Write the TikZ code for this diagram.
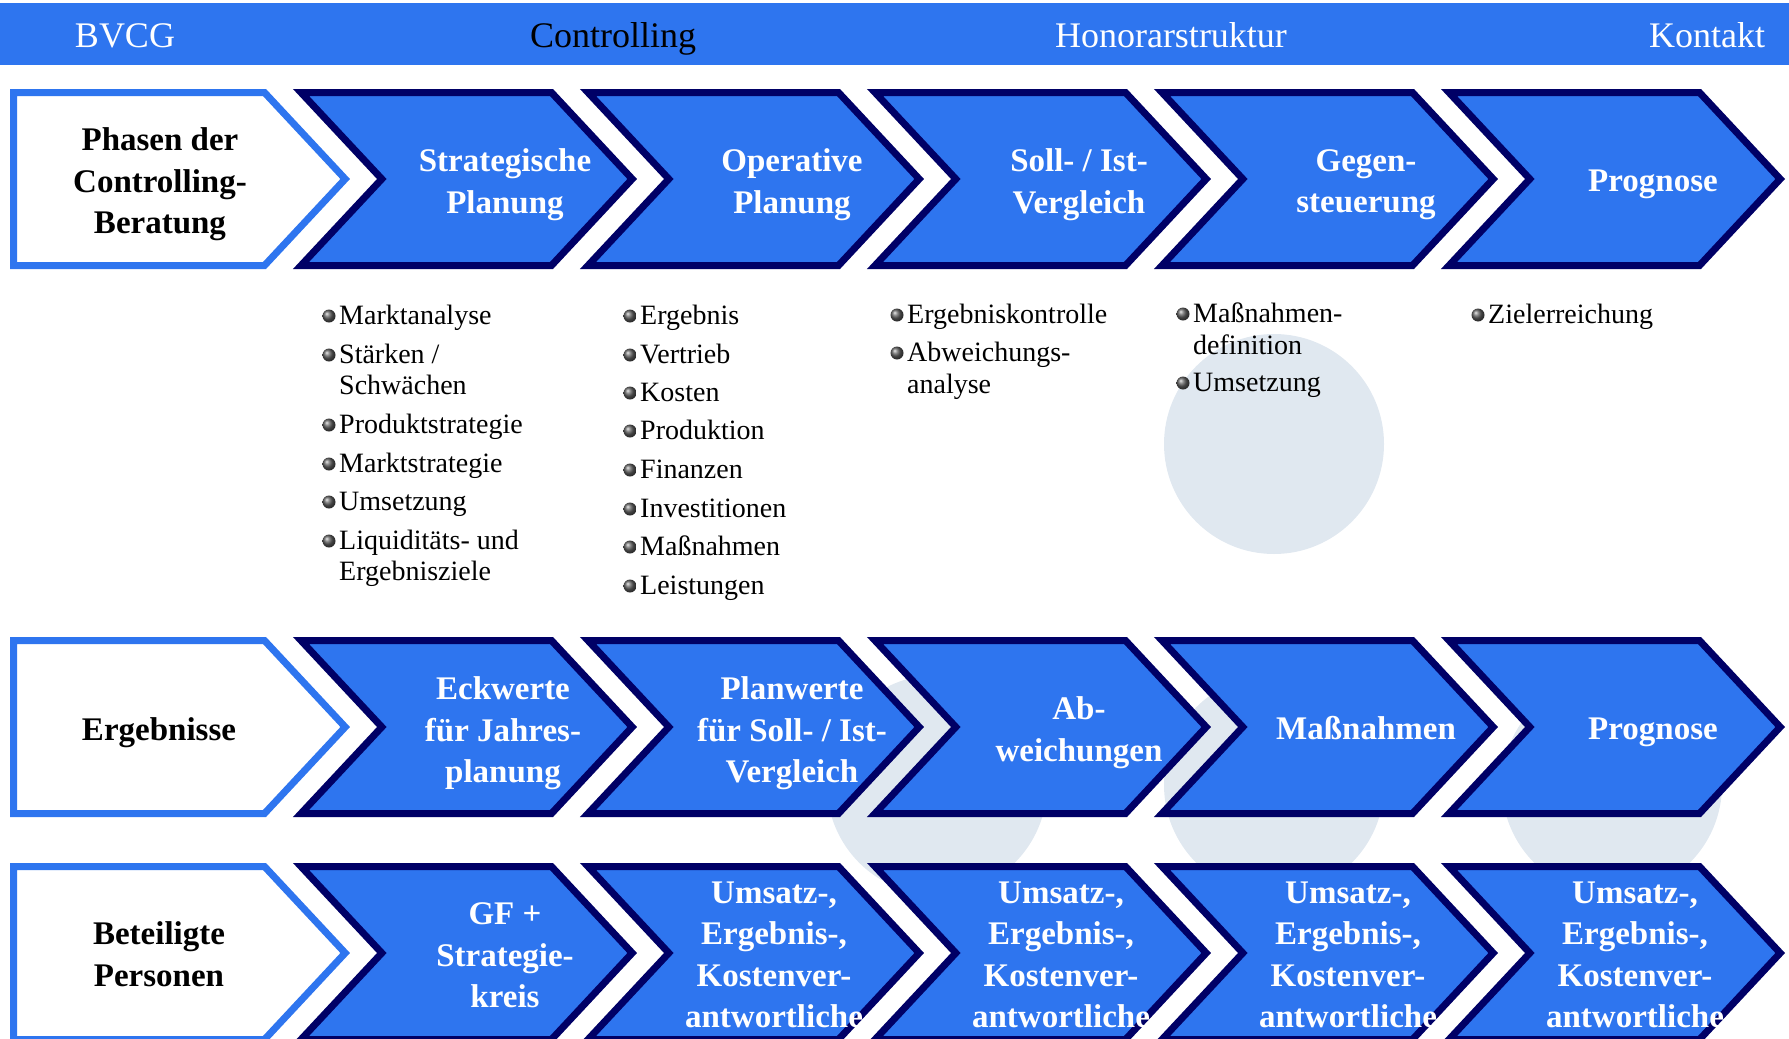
\documentclass[tikz,border=0pt]{standalone}
\usepackage{fontspec}
\setmainfont{Liberation Serif}
\definecolor{bvblue}{RGB}{46,117,239}
\definecolor{bvnavy}{RGB}{0,0,102}
\definecolor{bvgrey}{RGB}{224,232,240}
\tikzset{
  chev/.style={fill=bvblue, draw=bvnavy, line width=7pt},
  chevwhite/.style={fill=white, draw=bvblue, line width=7pt},
  chevtext/.style={text=white, align=center, inner sep=0pt, font=\fontsize{33}{41.5}\selectfont\bfseries},
  rowhead/.style={text=black, align=center, inner sep=0pt, font=\fontsize{33}{41.5}\selectfont\bfseries},
  menu/.style={anchor=base, inner sep=0pt, font=\fontsize{36}{40}\selectfont},
  punkt/.style={anchor=base west, inner sep=0pt, font=\fontsize{28}{31}\selectfont},
}
\begin{document}
\begin{tikzpicture}[x=1pt, y=-1pt, line join=miter]
	\def\kugel#1#2{\shade[ball color=gray!75!black] (#1-10,#2-8) circle[radius=6.5pt];}
	\useasboundingbox (0,0) rectangle (1789,1039);
	\clip (0,0) rectangle (1789,1039);
	% Kreise im Hintergrund
	\fill[bvgrey] (1274,444) circle[radius=110pt];
	\fill[bvgrey] (937,785) circle[radius=110pt];
	\fill[bvgrey] (1274,785) circle[radius=110pt];
	\fill[bvgrey] (1612,785) circle[radius=110pt];
	% Kopfzeile
	\fill[bvblue] (0,3) rectangle (1789,65);
	\node[menu, text=white] (bvcg) at (125,47) {BVCG};
	\node[menu, text=black] (contr) at (613,47) {Controlling};
	\node[menu, text=white] (honor) at (1171,47) {Honorarstruktur};
	\node[menu, text=white] (kontakt) at (1707,47) {Kontakt};
	% Pfeile
	\foreach \ry in {89,637,863} {
		\draw[chevwhite] (13.5,\ry+3.5) -- (264.5,\ry+3.5) -- (345.2,\ry+90) -- (264.5,\ry+176.5) -- (13.5,\ry+176.5) -- cycle;
		\foreach \lx in {293,580,867,1154,1441}
			\draw[chev] (\lx+8,\ry+3.5) -- (\lx+258.5,\ry+3.5) -- (\lx+339.2,\ry+90) -- (\lx+258.5,\ry+176.5) -- (\lx+8,\ry+176.5) -- (\lx+88.8,\ry+90) -- cycle;
	}
	% Zeile 1
	\node[rowhead] (phasen) at (160,184.5) {Phasen der\\Controlling-\\Beratung};
	\node[chevtext] (strat) at (505,184.5) {Strategische\\Planung};
	\node[chevtext] (oper) at (792,184.5) {Operative\\Planung};
	\node[chevtext] (soll) at (1079,184.5) {Soll- / Ist-\\Vergleich};
	\node[chevtext] (gegen) at (1366,184.5) {Gegen-\\steuerung};
	\node[chevtext] (progA) at (1653,184) {Prognose};
	% Zeile 2
	\node[rowhead] (ergeb) at (159,733) {Ergebnisse};
	\node[chevtext] (eck) at (503,733.5) {Eckwerte\\für Jahres-\\planung};
	\node[chevtext] (plan) at (792,733.5) {Planwerte\\für Soll- / Ist-\\Vergleich};
	\node[chevtext] (abw) at (1079,732.5) {Ab-\\weichungen};
	\node[chevtext] (mass) at (1366,728.5) {Maßnahmen};
	\node[chevtext] (progB) at (1653,732) {Prognose};
	% Zeile 3
	\node[rowhead] (betei) at (159,954) {Beteiligte\\Personen};
	\node[chevtext] (gf) at (505,955.5) {GF +\\Strategie-\\kreis};
	\node[chevtext] (kvA) at (774,955) {Umsatz-,\\Ergebnis-,\\Kostenver-\\antwortliche};
	\node[chevtext] (kvB) at (1061,955) {Umsatz-,\\Ergebnis-,\\Kostenver-\\antwortliche};
	\node[chevtext] (kvC) at (1348,955) {Umsatz-,\\Ergebnis-,\\Kostenver-\\antwortliche};
	\node[chevtext] (kvD) at (1635,955) {Umsatz-,\\Ergebnis-,\\Kostenver-\\antwortliche};
	% Aufzaehlungen
	\node[punkt] (ma) at (339,324) {Marktanalyse}; \kugel{339}{324}
	\node[punkt] (st) at (339,363) {Stärken /}; \kugel{339}{363}
	\node[punkt] (sw) at (339,394) {Schwächen};
	\node[punkt] (ps) at (339,433) {Produktstrategie}; \kugel{339}{433}
	\node[punkt] (mst) at (339,472) {Marktstrategie}; \kugel{339}{472}
	\node[punkt] (um) at (339,510) {Umsetzung}; \kugel{339}{510}
	\node[punkt] (lq) at (339,549) {Liquiditäts- und}; \kugel{339}{549}
	\node[punkt] (ez) at (339,580) {Ergebnisziele};
	\node[punkt] (erg) at (640,324) {Ergebnis}; \kugel{640}{324}
	\node[punkt] (vt) at (640,363) {Vertrieb}; \kugel{640}{363}
	\node[punkt] (ko) at (640,401) {Kosten}; \kugel{640}{401}
	\node[punkt] (pr) at (640,439) {Produktion}; \kugel{640}{439}
	\node[punkt] (fi) at (640,478) {Finanzen}; \kugel{640}{478}
	\node[punkt] (inv) at (640,517) {Investitionen}; \kugel{640}{517}
	\node[punkt] (mn) at (640,555) {Maßnahmen}; \kugel{640}{555}
	\node[punkt] (le) at (640,594) {Leistungen}; \kugel{640}{594}
	\node[punkt] (ek) at (907,323) {Ergebniskontrolle}; \kugel{907}{323}
	\node[punkt] (aw) at (907,361) {Abweichungs-}; \kugel{907}{361}
	\node[punkt] (an) at (907,393) {analyse};
	\node[punkt] (md) at (1193,322) {Maßnahmen-}; \kugel{1193}{322}
	\node[punkt] (de) at (1193,354) {definition};
	\node[punkt] (us) at (1193,391) {Umsetzung}; \kugel{1193}{391}
	\node[punkt] (zi) at (1488,323) {Zielerreichung}; \kugel{1488}{323}
\end{tikzpicture}
\end{document}
